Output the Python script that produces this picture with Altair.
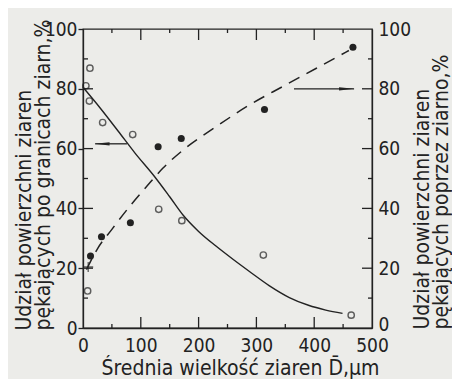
import altair as alt
import pandas as pd

# ---- data ----
hollow_D = [5, 12, 11, 34, 86, 131, 171, 312, 464, 8]
hollow_pct = [81.0, 86.9, 75.9, 68.7, 64.7, 39.7, 35.9, 24.4, 4.3, 12.4]

filled_D = [13, 32, 82, 130, 170, 314, 467]
filled_pct = [24.1, 30.5, 35.2, 60.6, 63.4, 73.1, 93.9]

solid_D = [0, 30, 61, 90, 124, 150, 173, 200, 230, 260, 288, 322, 357, 390, 420, 449]
solid_pct = [80.5, 73.5, 65.8, 58.5, 50.6, 43.9, 37.8, 32.3, 27.4, 22.9, 18.9, 14.2,
             10.2, 7.6, 6.0, 4.9]

dashed_D = [6, 25, 50, 80, 110, 138, 173, 230, 288, 345, 403, 460]
dashed_pct = [19.5, 26.5, 33.0, 40.5, 47.3, 53.4, 59.5, 67.3, 74.6, 80.7, 86.8, 92.8]

cross_D = [9]
cross_pct = [20.4]

# arrows: [start D, end D, level %], head centre D
arrow_left = [21, 76, 61.6]
arrow_left_head = [33]
arrow_right = [365, 469, 80.0]
arrow_right_head = [456]

x_labels = [0, 100, 200, 300, 400, 500]
x_major = [100, 200, 300, 400]
x_minor = [50, 150, 250, 350, 450]
y_labels = [0, 20, 40, 60, 80, 100]
y_major = [20, 40, 60, 80]
y_minor = [10, 30, 50, 70, 90]

x_title = "Średnia wielkość ziaren D\u0304,\u00b5m"
left_title = ["Udział powierzchni ziaren", "pękających po granicach ziarn,%"]
right_title = ["Udział powierzchni ziaren", "pękających poprzez ziarno,%"]

# ---- styling ----
FONT = "Liberation Sans Narrow, DejaVu Sans Condensed, DejaVu Sans"
INK = "#222222"
BG = "#ecece9"
W, H = 289, 299
TFS = 21

xs = alt.Scale(domain=[0, 500], nice=False, zero=False)
ys = alt.Scale(domain=[0, 100], nice=False)

x_axis = alt.Axis(values=x_labels, tickSize=0, labelPadding=8, labelFontSize=19,
                  labelFont=FONT, labelColor=INK, domainColor=INK, domainWidth=1.3,
                  grid=False, title=x_title, titleFont=FONT, titleFontSize=TFS,
                  titleFontWeight="normal", titleColor=INK, titleX=157, titleY=46,
                  titleBaseline="alphabetic", labelFlush=False)

yl_axis = alt.Axis(values=y_labels, tickSize=5, tickColor=INK, tickWidth=1.3,
                   labelPadding=1, labelFontSize=19, labelFont=FONT, labelColor=INK,
                   domainColor=INK, domainWidth=1.3, grid=False, title=left_title,
                   titleFont=FONT, titleFontSize=TFS, titleFontWeight="normal",
                   titleColor=INK, titleAngle=270, titleAlign="left",
                   titleBaseline="top", titleX=-70, titleY=301, titleLineHeight=19,
                   labelFlush=False)

yr_axis = alt.Axis(values=y_labels, tickSize=0, labelPadding=6, labelFontSize=19,
                   labelFont=FONT, labelColor=INK, domainColor=INK, domainWidth=1.3,
                   grid=False, title=right_title, titleFont=FONT, titleFontSize=TFS,
                   titleFontWeight="normal", titleColor=INK, titleAngle=270,
                   titleAlign="left", titleBaseline="top", titleX=39, titleY=300,
                   titleLineHeight=19, labelFlush=False,
                   labelOffset=alt.ExprRef("datum.value == 0 ? -4 : 0"))


def X():
    return alt.X("D:Q", scale=xs, axis=x_axis)


def YL():
    return alt.Y("p:Q", scale=ys, axis=yl_axis)


def YR():
    return alt.Y("p:Q", scale=ys, axis=yr_axis)


# ---- left-scale layer ----
hollow = alt.Chart(pd.DataFrame({"D": hollow_D, "p": hollow_pct})).mark_point(
    shape="circle", filled=False, size=40, strokeWidth=1.4, color=INK).encode(x=X(), y=YL())

solid = alt.Chart(pd.DataFrame({"D": solid_D, "p": solid_pct})).mark_line(
    color=INK, strokeWidth=1.4, interpolate="monotone").encode(x=X(), y=YL())

la_line = alt.Chart(pd.DataFrame({"D": [arrow_left[0]], "D2": [arrow_left[1]],
                                  "p": [arrow_left[2]]})).mark_rule(
    color=INK, strokeWidth=1.3).encode(x=X(), x2="D2:Q", y=YL())
la_head = alt.Chart(pd.DataFrame({"D": arrow_left_head, "p": [arrow_left[2]]})).mark_point(
    shape="M-1,0L1,-0.22L1,0.22Z", filled=True, size=225, color=INK, opacity=1).encode(
    x=X(), y=YL())

cross = alt.Chart(pd.DataFrame({"D": cross_D, "p": cross_pct})).mark_point(
    shape="M-1,0L1,0M0,-1L0,1", filled=False, size=100, strokeWidth=1.3, color=INK).encode(
    x=X(), y=YL())


def xrule(vals, y1, y2):
    return alt.Chart(pd.DataFrame({"D": vals})).mark_rule(color=INK, strokeWidth=1.3).encode(
        x=X(), y=alt.value(y1), y2=alt.value(y2))


def yrule(vals, x1, x2, yenc):
    return alt.Chart(pd.DataFrame({"p": vals})).mark_rule(color=INK, strokeWidth=1.3).encode(
        y=yenc(), x=alt.value(x1), x2=alt.value(x2))


left_layer = alt.layer(
    hollow, solid, la_line, la_head, cross,
    xrule(x_major, H, H - 11), xrule(x_minor, H, H - 4),
    xrule(x_major, 0, 11), xrule(x_minor, 0, 4),
    yrule(y_major, 0, 10, YL), yrule(y_minor, 0, 5, YL),
)

# ---- right-scale layer ----
filled = alt.Chart(pd.DataFrame({"D": filled_D, "p": filled_pct})).mark_point(
    shape="circle", filled=True, size=50, color=INK, opacity=1).encode(x=X(), y=YR())

dashed = alt.Chart(pd.DataFrame({"D": dashed_D, "p": dashed_pct})).mark_line(
    color=INK, strokeWidth=1.5, strokeDash=[12, 8], interpolate="monotone").encode(
    x=X(), y=YR())

ra_line = alt.Chart(pd.DataFrame({"D": [arrow_right[0]], "D2": [arrow_right[1]],
                                  "p": [arrow_right[2]]})).mark_rule(
    color=INK, strokeWidth=1.3).encode(x=X(), x2="D2:Q", y=YR())
ra_head = alt.Chart(pd.DataFrame({"D": arrow_right_head, "p": [arrow_right[2]]})).mark_point(
    shape="M1,0L-1,-0.22L-1,0.22Z", filled=True, size=225, color=INK, opacity=1).encode(
    x=X(), y=YR())

right_layer = alt.layer(
    filled, dashed, ra_line, ra_head,
    yrule(y_major, W, W - 10, YR), yrule(y_minor, W, W - 4, YR),
)

chart = alt.layer(left_layer, right_layer).resolve_scale(y="independent").properties(
    width=W, height=H,
    padding={"left": 75, "top": 21, "right": 80, "bottom": 51},
    autosize=alt.AutoSizeParams(type="none"),
    background=BG,
).configure_view(stroke=INK, strokeWidth=1.3)

chart.save("out.html", embed_options={"renderer": "svg", "actions": False})
